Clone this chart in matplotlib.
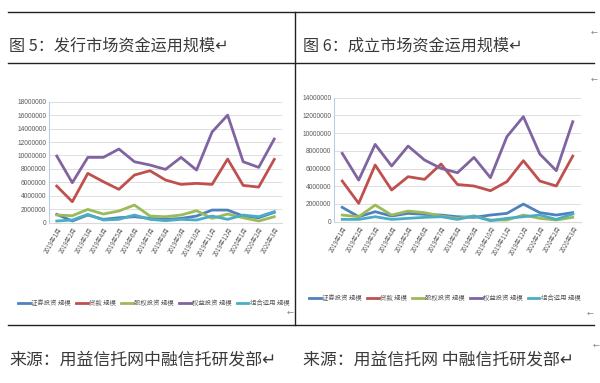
import matplotlib
matplotlib.use("Agg")
import matplotlib.pyplot as plt
from matplotlib.lines import Line2D

plt.rcParams['font.family'] = ['Noto Sans CJK SC', 'DejaVu Sans']

months = ["2019年1月", "2019年2月", "2019年3月", "2019年4月", "2019年5月", "2019年6月",
          "2019年7月", "2019年8月", "2019年9月", "2019年10月", "2019年11月", "2019年12月",
          "2020年1月", "2020年2月", "2020年3月"]
series_names = ["证券投资 规模", "贷款 规模", "股权投资 规模", "权益投资 规模", "组合运用 规模"]
colors = ["#4F81BD", "#C0504D", "#9BBB59", "#8064A2", "#4BACC6"]

# Figure 5: issuance market (units)
issue_sec = [1240000, 250000, 1140000, 500000, 740000, 890000, 640000, 500000, 640000, 990000,
             1880000, 1880000, 990000, 740000, 1540000]
issue_loan = [5450000, 3120000, 7340000, 6100000, 4960000, 7090000, 7730000, 6350000, 5700000, 5850000,
              5700000, 9470000, 5550000, 5300000, 9420000]
issue_equity = [1140000, 1040000, 1980000, 1290000, 1740000, 2630000, 990000, 890000, 1140000, 1780000,
                640000, 1290000, 740000, 250000, 890000]
issue_rights = [9920000, 5950000, 9720000, 9720000, 10960000, 9070000, 8580000, 7930000, 9720000, 7830000,
                13500000, 16000000, 9070000, 8230000, 12440000]
issue_combo = [250000, 400000, 1240000, 400000, 500000, 1140000, 500000, 300000, 500000, 400000,
               990000, 500000, 1140000, 890000, 1640000]

# Figure 6: established market (units)
est_sec = [1620000, 560000, 1130000, 640000, 940000, 830000, 750000, 560000, 490000, 750000,
           940000, 1990000, 1020000, 750000, 1020000]
est_loan = [4590000, 2070000, 6400000, 3580000, 5080000, 4780000, 6510000, 4200000, 4030000, 3500000,
            4520000, 6890000, 4590000, 4030000, 7410000]
est_equity = [750000, 560000, 1880000, 750000, 1200000, 1020000, 640000, 380000, 640000, 190000,
              190000, 750000, 380000, 190000, 490000]
est_rights = [7720000, 4700000, 8730000, 6290000, 8540000, 6960000, 6020000, 5530000, 7260000, 4970000,
              9600000, 11860000, 7640000, 5760000, 11290000]
est_combo = [260000, 260000, 560000, 260000, 380000, 490000, 560000, 260000, 640000, 110000,
             380000, 560000, 750000, 260000, 870000]

W, H = 600, 383
fig = plt.figure(figsize=(6.0, 3.83), dpi=100)

def fx(px):
    return px / W

def fy(py):
    return 1 - py / H

def hline(y, x0, x1, lw=1.0, color="#222222"):
    fig.add_artist(Line2D([fx(x0), fx(x1)], [fy(y), fy(y)], transform=fig.transFigure,
                          color=color, lw=lw))

def vline(x, y0, y1, lw=1.0, color="#222222"):
    fig.add_artist(Line2D([fx(x), fx(x)], [fy(y0), fy(y1)], transform=fig.transFigure,
                          color=color, lw=lw))

# table lines
hline(12, 8, 594)
hline(63, 8, 594)
hline(325, 8, 594)
vline(295, 12, 325)

# titles
fig.text(fx(9), fy(46), "图 5：发行市场资金运用规模↵", fontsize=11.6, color="#3a3a3a", va="center")
fig.text(fx(303), fy(46), "图 6：成立市场资金运用规模↵", fontsize=11.6, color="#3a3a3a", va="center")

# sources
fig.text(fx(9), fy(359), "来源：用益信托网中融信托研发部↵", fontsize=12.2, color="#3a3a3a", va="center")
fig.text(fx(303), fy(359), "来源：用益信托网 中融信托研发部↵", fontsize=12.2, color="#3a3a3a", va="center")

# small paragraph marks
for (x, y) in [(594, 32), (594, 79), (290, 312), (590, 313), (596, 345)]:
    fig.text(fx(x), fy(y), "←", fontsize=6, color="#888888", ha="center", va="center",
             family=['DejaVu Sans'])

def draw_chart(rect, data, ymax, ystep, legend_y, legend_x):
    ax = fig.add_axes(rect)
    x = list(range(len(months)))
    handles = []
    for vals, name, c in zip(data, series_names, colors):
        h, = ax.plot(x, vals, color=c, lw=2.0, label=name)
        handles.append(h)
    ax.set_xlim(-0.5, len(months) - 0.5)
    ax.set_ylim(0, ymax)
    ax.set_yticks(list(range(0, ymax + 1, ystep)))
    ax.set_yticklabels([str(v) for v in range(0, ymax + 1, ystep)], fontsize=4.8, color="#595959",
                       family=['Liberation Sans'])
    ax.set_xticks(x)
    ax.set_xticklabels(months, rotation=60, ha="right", rotation_mode="anchor", fontsize=4.4,
                       color="#595959")
    ax.tick_params(axis='both', length=0, pad=2)
    ax.grid(axis='y', color="#D9D9D9", lw=0.6)
    ax.set_axisbelow(True)
    for s in ['top', 'right']:
        ax.spines[s].set_visible(False)
    ax.spines['left'].set_color("#B9CDE5")
    ax.spines['left'].set_linewidth(0.8)
    ax.spines['bottom'].set_color("#D9D9D9")
    ax.spines['bottom'].set_linewidth(0.8)
    fig.legend(handles=handles, loc="center", bbox_to_anchor=(fx(legend_x), fy(legend_y)),
               ncol=5, frameon=False, fontsize=4.6, handlelength=1.8, handletextpad=0.25,
               columnspacing=0.8, labelcolor="#595959")
    return ax

draw_chart([fx(49), fy(222.7), fx(282) - fx(49), fy(101.7) - fy(222.7)],
           [issue_sec, issue_loan, issue_equity, issue_rights, issue_combo],
           18000000, 2000000, 303, 154)
draw_chart([fx(334), fy(221.7), fx(581) - fx(334), fy(97.7) - fy(221.7)],
           [est_sec, est_loan, est_equity, est_rights, est_combo],
           14000000, 2000000, 298, 445)

fig.savefig("out.png", dpi=100)
